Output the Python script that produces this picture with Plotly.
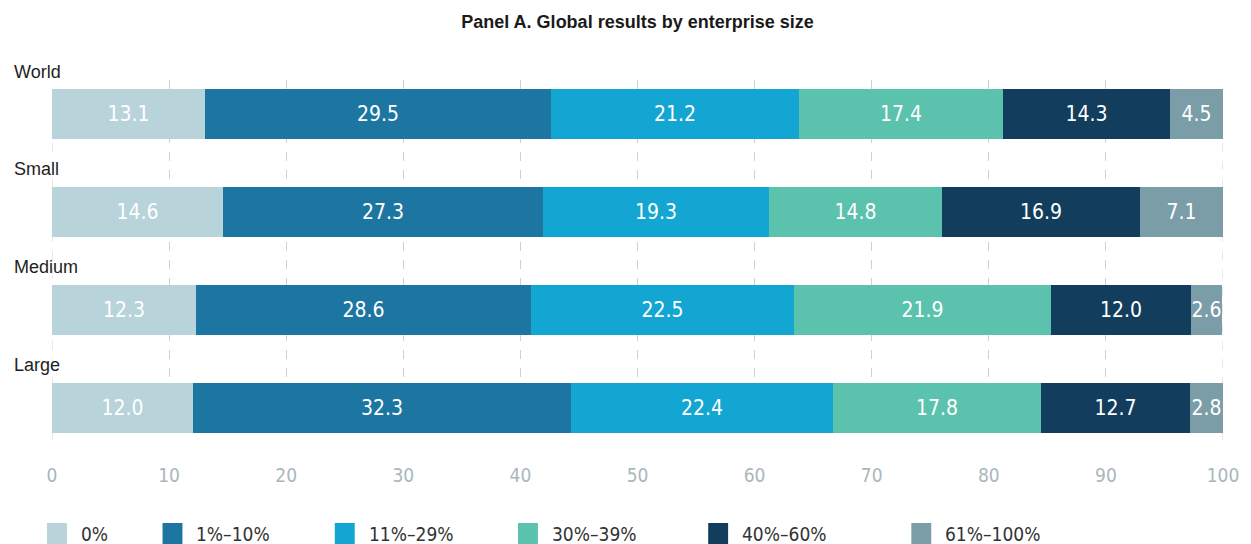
import plotly.graph_objects as go

# Share of enterprises by size group, split into response bands
groups = ["World", "Small", "Medium", "Large"]
bands = ["0%", "1%–10%", "11%–29%", "30%–39%", "40%–60%", "61%–100%"]
band_colors = ["#b9d3da", "#1d76a1", "#13a6d2", "#5bc2ad", "#123d5c", "#7a9da8"]

val_0 = [13.1, 14.6, 12.3, 12.0]
val_1_10 = [29.5, 27.3, 28.6, 32.3]
val_11_29 = [21.2, 19.3, 22.5, 22.4]
val_30_39 = [17.4, 14.8, 21.9, 17.8]
val_40_60 = [14.3, 16.9, 12.0, 12.7]
val_61_100 = [4.5, 7.1, 2.6, 2.8]
series = [val_0, val_1_10, val_11_29, val_30_39, val_40_60, val_61_100]

x_ticks = [0, 10, 20, 30, 40, 50, 60, 70, 80, 90, 100]

W, H = 1251, 544
ML, MR, MT, MB = 52, 23, 80, 104
PW = W - ML - MR
PH = H - MT - MB

NUM_FONT = "Liberation Sans Narrow, DejaVu Sans Condensed, Roboto, sans-serif"
LBL_FONT = "Liberation Sans, Roboto, Arial, sans-serif"
GRID_COLOR = "#c9d2d6"


def px_to_paper_y(py):
    return (H - MB - py) / PH


def px_to_paper_x(px):
    return (px - ML) / PW


fig = go.Figure()
ypos = list(range(len(groups)))
for name, vals, col in zip(bands, series, band_colors):
    fig.add_trace(go.Bar(
        x=vals, y=ypos, orientation="h", name=name,
        marker=dict(color=col, line=dict(width=0)),
        width=0.51,
        text=[f"{v:.1f}" for v in vals],
        textposition="inside", insidetextanchor="middle", textangle=0,
        textfont=dict(color="white", size=21, family=NUM_FONT),
        showlegend=False, hoverinfo="skip",
    ))

# dashed grid lines at the two ends of the axis (plotly omits edge gridlines)
for xv in (x_ticks[0], x_ticks[-1]):
    fig.add_shape(
        type="line", xref="x", yref="paper", x0=xv, x1=xv, y0=0, y1=1,
        line=dict(color=GRID_COLOR, width=1, dash="dash"), layer="below",
    )

# group names above each bar
label_y = [72, 169, 267, 365]
for g, ly in zip(groups, label_y):
    fig.add_annotation(
        x=px_to_paper_x(12), xref="paper", y=px_to_paper_y(ly), yref="paper",
        text=g, showarrow=False, xanchor="left", yanchor="middle",
        font=dict(size=18, color="#1e1e1e", family=LBL_FONT),
    )

# legend row drawn as swatches + labels
leg_x = [47, 163, 336, 520, 711, 915]
leg_yc = 534
for lx, name, col in zip(leg_x, bands, band_colors):
    fig.add_shape(
        type="rect", xref="paper", yref="paper",
        x0=px_to_paper_x(lx), x1=px_to_paper_x(lx + 20),
        y0=px_to_paper_y(leg_yc + 11), y1=px_to_paper_y(leg_yc - 11),
        fillcolor=col, line=dict(width=0),
    )
    fig.add_annotation(
        x=px_to_paper_x(lx + 32), xref="paper",
        y=px_to_paper_y(leg_yc), yref="paper",
        text=name, showarrow=False, xanchor="left", yanchor="middle",
        font=dict(size=19, color="#333333", family=NUM_FONT),
    )

fig.update_layout(
    width=W, height=H,
    margin=dict(l=ML, r=MR, t=MT, b=MB),
    paper_bgcolor="white", plot_bgcolor="white",
    barmode="stack", bargap=0,
    uniformtext=dict(minsize=21, mode="show"),
    title=dict(
        text="<b>Panel A. Global results by enterprise size</b>",
        x=0.5, xref="paper", xanchor="center", y=1 - 22 / H, yanchor="middle",
        font=dict(size=18, color="#1a1a1a", family=LBL_FONT),
    ),
    xaxis=dict(
        range=[0, 100], tickvals=x_ticks, showgrid=True,
        gridcolor=GRID_COLOR, griddash="dash", gridwidth=1,
        zeroline=False, showline=False, ticks="",
        ticklabelstandoff=22,
        tickfont=dict(size=19, color="#a9b7bb", family=NUM_FONT),
    ),
    yaxis=dict(
        range=[3.33, -0.35], showticklabels=False, showgrid=False,
        zeroline=False, showline=False,
    ),
    showlegend=False,
)

fig.write_html("out.html")
